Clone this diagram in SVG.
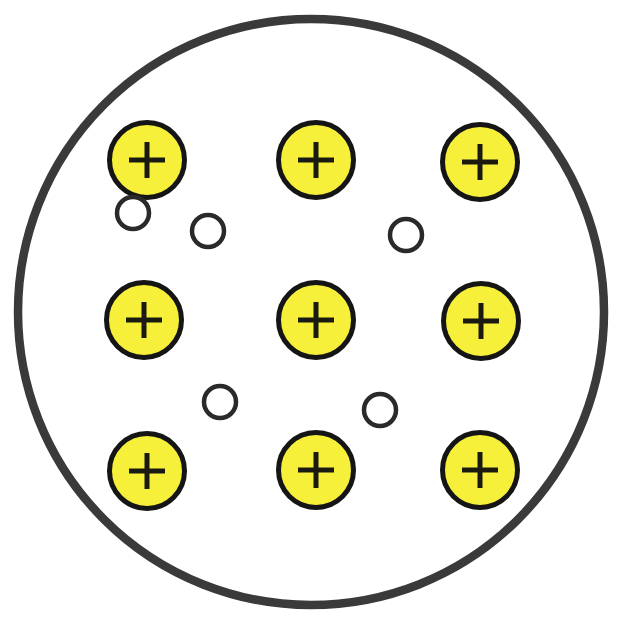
<svg xmlns="http://www.w3.org/2000/svg" width="618" height="617" viewBox="0 0 618 617">
<style>
.ionbody{fill:#f6f03a;stroke:#151515;stroke-width:5}
.plus{stroke:#1a1a10;stroke-width:5;fill:none}
.e{fill:#fff;stroke:#2a2a2a;stroke-width:4.5}
</style>
<defs>
<g id="ionShape"><circle class="ionbody" r="37.5"/><path class="plus" d="M-18 0H18M0-18V18"/></g>
</defs>
<rect width="618" height="617" fill="#fff"/>
<circle id="metal" cx="311" cy="312" r="293" fill="#fff" stroke="#3a3a3a" stroke-width="8.5"/>
<g id="ion1" transform="translate(147,160)"><use href="#ionShape"/></g>
<g id="ion2" transform="translate(316,160)"><use href="#ionShape"/></g>
<g id="ion3" transform="translate(480,162)"><use href="#ionShape"/></g>
<g id="ion4" transform="translate(144,320)"><use href="#ionShape"/></g>
<g id="ion5" transform="translate(316,320)"><use href="#ionShape"/></g>
<g id="ion6" transform="translate(481,321)"><use href="#ionShape"/></g>
<g id="ion7" transform="translate(147,471)"><use href="#ionShape"/></g>
<g id="ion8" transform="translate(316,470)"><use href="#ionShape"/></g>
<g id="ion9" transform="translate(480,470)"><use href="#ionShape"/></g>
<g id="e1"><circle class="e" cx="133" cy="213" r="16"/></g>
<g id="e2"><circle class="e" cx="208" cy="231" r="16"/></g>
<g id="e3"><circle class="e" cx="406" cy="235" r="16"/></g>
<g id="e4"><circle class="e" cx="220" cy="402" r="16"/></g>
<g id="e5"><circle class="e" cx="380" cy="410" r="16"/></g>
</svg>
